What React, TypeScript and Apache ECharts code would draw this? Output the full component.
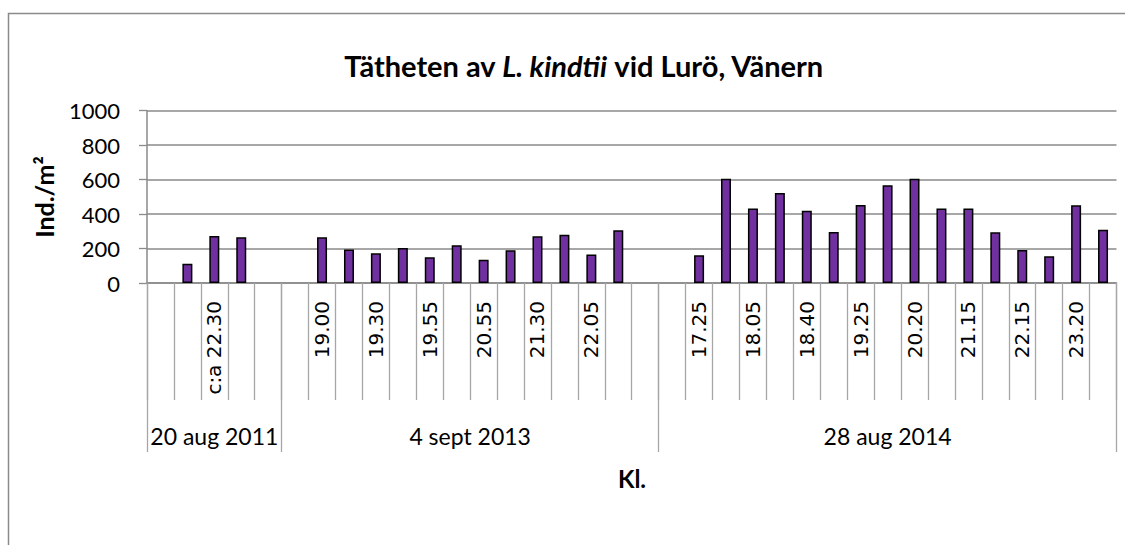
import React, { useEffect, useRef } from "react";
import * as echarts from "echarts";

// Slot labels (Excel showed every other label; hidden ones are blank)
const slotLabels = [
  "", "", "c:a 22.30", "", "",
  "", "19.00", "", "19.30", "", "19.55", "", "20.55", "", "21.30", "", "22.05", "", "",
  "", "17.25", "", "18.05", "", "18.40", "", "19.25", "", "20.20", "", "21.15", "", "22.15", "", "23.20", "",
];

// Ind./m² per slot (null = empty slot)
const densities = [
  null, 112, 273, 265, null,
  null, 265, 195, 172, 203, 149, 219, 135, 190, 271, 280, 166, 306, null,
  null, 161, 605, 433, 522, 420, 296, 453, 567, 605, 433, 433, 294, 191, 155, 451, 309,
];

const groupNames = ["20 aug 2011", "4 sept 2013", "28 aug 2014"];
const groupBounds = [0, 5, 19, 36];

const yTicks = { min: 0, max: 1000, interval: 200 };

const titlePlain1 = "Tätheten av ";
const titleItalic = "L. kindtii";
const titlePlain2 = " vid Lurö, Vänern";
const yName = "Ind./m²";
const xName = "Kl.";

export default function App() {
  const ref = useRef<HTMLDivElement>(null);
  useEffect(() => {
    if (!ref.current) return;
    const chart = echarts.init(ref.current, null, { renderer: "svg" });
    const groupCenters = groupNames.map((_, i) => (groupBounds[i] + groupBounds[i + 1]) / 2);
    const grey = "#8a8a8a";
    const lightGrey = "#a6a6a6";
    chart.setOption({
      animation: false,
      backgroundColor: "#fff",
      grid: {
        left: 147,
        right: 8.5,
        top: 110.7,
        bottom: 262,
        containLabel: false,
        outerBoundsMode: "none",
      },
      xAxis: [
        {
          type: "category",
          data: slotLabels,
          position: "bottom",
          boundaryGap: true,
          axisLine: { show: true, lineStyle: { color: grey, width: 1.5 } },
          axisTick: { show: true, interval: 0, length: 117, lineStyle: { color: lightGrey, width: 1.3 } },
          axisLabel: {
            interval: 0,
            rotate: 90,
            margin: 18,
            fontFamily: "DejaVu Sans",
            fontSize: 20,
            color: "#000",
          },
          splitLine: { show: false },
        },
        {
          type: "value",
          min: groupBounds[0],
          max: groupBounds[groupBounds.length - 1],
          position: "bottom",
          axisLine: { show: false },
          axisTick: {
            show: true,
            customValues: groupBounds,
            length: 169,
            lineStyle: { color: lightGrey, width: 1.3 },
          },
          axisLabel: {
            show: true,
            customValues: groupCenters,
            formatter: (v: number) => {
              const i = groupCenters.findIndex((c) => Math.abs(c - v) < 1e-6);
              return i >= 0 ? groupNames[i] : "";
            },
            margin: 141,
            fontFamily: "Lato",
            fontSize: 23,
            color: "#000",
          },
          splitLine: { show: false },
        },
      ],
      yAxis: {
        type: "value",
        min: yTicks.min,
        max: yTicks.max,
        interval: yTicks.interval,
        axisLine: { show: true, lineStyle: { color: grey, width: 1.5 } },
        axisTick: { show: true, length: 8, lineStyle: { color: grey, width: 1.3 } },
        axisLabel: {
          margin: 27,
          fontFamily: "Lato",
          fontSize: 22,
          color: "#000",
          formatter: (v: number) => String(v),
        },
        splitLine: { show: true, lineStyle: { color: grey, width: 1.5 } },
      },
      series: [
        {
          type: "bar",
          xAxisIndex: 0,
          data: densities,
          barWidth: 10,
          itemStyle: { color: "#7030A0", borderColor: "#000", borderWidth: 1.5 },
        },
      ],
      graphic: [
        {
          type: "polyline",
          shape: { points: [[8.5, 545], [8.5, 13.5], [1125, 13.5]] },
          style: { stroke: grey, lineWidth: 1.5, fill: null },
          silent: true,
        },
        {
          type: "text",
          x: 584,
          y: 65,
          style: {
            text: titlePlain1 + "{i|" + titleItalic + "}" + titlePlain2,
            font: "bold 29px Lato",
            fill: "#000",
            textAlign: "center",
            textVerticalAlign: "middle",
            rich: {
              i: { fontStyle: "italic", fontWeight: "bold", fontSize: 29, fontFamily: "Lato", fill: "#000" },
            },
          },
        },
        {
          type: "text",
          x: 44,
          y: 197,
          rotation: Math.PI / 2,
          style: {
            text: yName,
            font: "bold 25px Lato",
            fill: "#000",
            textAlign: "center",
            textVerticalAlign: "middle",
          },
        },
        {
          type: "text",
          x: 632,
          y: 478,
          style: {
            text: xName,
            font: "bold 24px Lato",
            fill: "#000",
            textAlign: "center",
            textVerticalAlign: "middle",
          },
        },
      ],
    });
    return () => chart.dispose();
  }, []);
  return (
    <div
      ref={ref}
      style={{ position: "fixed", left: 0, top: 0, width: 1125, height: 545, background: "#fff" }}
    />
  );
}
